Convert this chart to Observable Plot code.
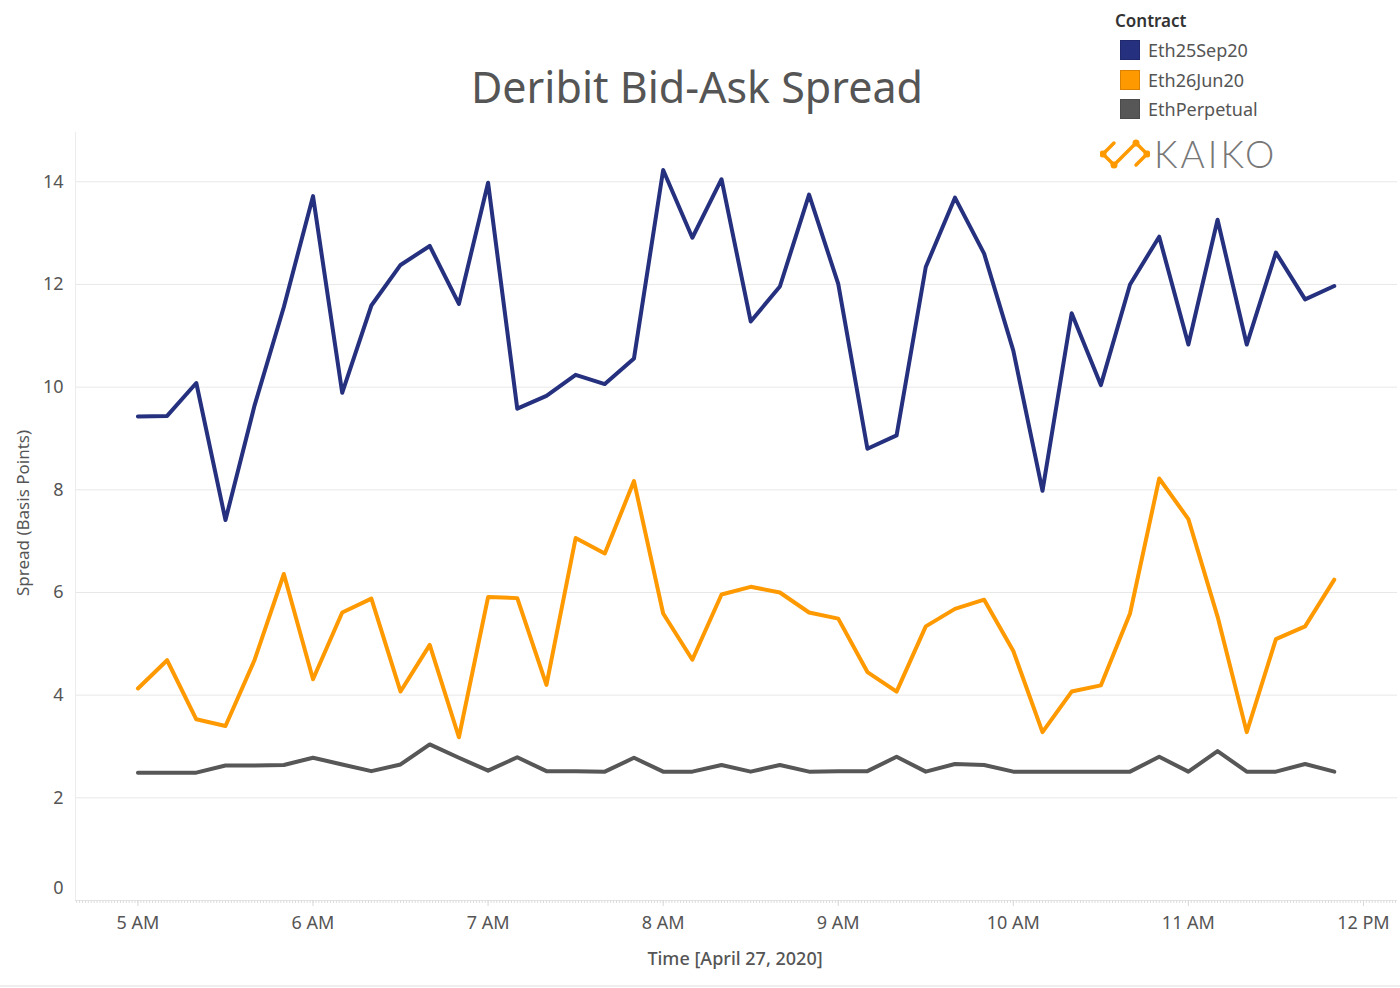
<!DOCTYPE html>
<html>
<head>
<meta charset="utf-8">
<script src="https://cdn.jsdelivr.net/npm/d3@7"></script>
<script src="https://cdn.jsdelivr.net/npm/@observablehq/plot@0.6"></script>
<style>
  body { margin: 0; background: #fff; font-family: "Noto Sans", sans-serif; }
  #wrap { position: relative; width: 1400px; height: 988px; overflow: hidden; }
  #chart { position: absolute; left: 0; top: 0; }
  .title { position: absolute; left: 0; width: 1394px; top: 57px; text-align: center; font-size: 43px; color: #555; letter-spacing: 0px; }
  .ylab { position: absolute; left: 22px; top: 513px; transform: translate(-50%, -50%) rotate(-90deg); white-space: nowrap; font-size: 17px; color: #555; }
  .xlab { position: absolute; left: 735px; top: 958px; transform: translate(-50%, -50%); white-space: nowrap; font-size: 18px; color: #555; font-weight: 500; }
  .legend-title { position: absolute; left: 1115px; top: 9px; font-size: 17px; font-weight: 600; color: #333; }
  .legend-item { position: absolute; left: 1120px; height: 20px; display: flex; align-items: center; font-size: 18px; color: #555; white-space: nowrap; }
  .legend-item span.sw { width: 20px; height: 20px; box-sizing: border-box; border: 1px solid rgba(0,0,0,0.15); margin-right: 8px; }
  .logo { position: absolute; left: 1100px; top: 131px; display: flex; align-items: center; }
  .logo span { font-family: Lato, sans-serif; font-weight: 300; font-size: 37px; letter-spacing: 3px; color: #777; margin-left: 4px; }
  .bottom-line { position: absolute; left: 0; top: 985px; width: 1400px; height: 2px; background: #eee; }
</style>
</head>
<body>
<div id="wrap">
  <div id="chart"></div>
  <div class="title">Deribit Bid-Ask Spread</div>
  <div class="ylab">Spread (Basis Points)</div>
  <div class="xlab">Time [April 27, 2020]</div>
  <div class="legend-title">Contract</div>
  <div id="legend"></div>
  <div class="logo">
    <svg width="50" height="30" viewBox="0 0 50 30">
      <g fill="none" stroke="#ff9900" stroke-width="3.5" stroke-linecap="round" stroke-linejoin="round">
        <path d="M14,4 L3,15 L14,26"/>
        <path d="M14,26 L25,15 L36,4"/>
        <path d="M36,4 L47,15 L36,26"/>
      </g>
      <g fill="#ff9900">
        <circle cx="3" cy="15" r="3.5"/>
        <circle cx="14" cy="26" r="3.5"/>
        <circle cx="36" cy="4" r="3.5"/>
        <circle cx="47" cy="15" r="3.5"/>
      </g>
    </svg>
    <span>KAIKO</span>
  </div>
  <div class="bottom-line"></div>
</div>
<script>
// horas de cada punto (27 abril 2020)
const times = [
  "05:00","05:10","05:20","05:30","05:40","05:50",
  "06:00","06:10","06:20","06:30","06:40","06:50",
  "07:00","07:10","07:20","07:30","07:40","07:50",
  "08:00","08:10","08:20","08:30","08:40","08:50",
  "09:00","09:10","09:20","09:30","09:40","09:50",
  "10:00","10:10","10:20","10:30","10:40","10:50",
  "11:00","11:10","11:20","11:30","11:40","11:50"
]
const eth25Sep20 = [9.43,9.44,10.08,7.41,9.65,11.56,13.72,9.89,11.59,12.38,12.75,11.62,13.98,9.58,9.83,10.24,10.06,10.56,14.23,12.91,14.05,11.28,11.96,13.75,12.01,8.80,9.06,12.34,13.69,12.60,10.71,7.98,11.44,10.04,12.00,12.93,10.83,13.26,10.83,12.62,11.71,11.97]
const eth26Jun20 = [4.13,4.68,3.53,3.40,4.69,6.36,4.31,5.61,5.88,4.07,4.98,3.18,5.91,5.89,4.20,7.06,6.76,8.17,5.59,4.69,5.96,6.11,6.00,5.61,5.49,4.45,4.07,5.34,5.68,5.86,4.86,3.28,4.07,4.19,5.59,8.22,7.43,5.53,3.28,5.09,5.34,6.25]
const ethPerpetual = [2.49,2.49,2.49,2.63,2.63,2.64,2.78,2.65,2.52,2.65,3.04,2.78,2.53,2.79,2.52,2.52,2.51,2.78,2.51,2.51,2.64,2.51,2.64,2.51,2.52,2.52,2.80,2.51,2.66,2.64,2.51,2.51,2.51,2.51,2.51,2.80,2.51,2.91,2.51,2.51,2.66,2.51]
const contracts = ["Eth25Sep20", "Eth26Jun20", "EthPerpetual"]
const colors = ["#25307f", "#ff9900", "#575757"]
const yTicks = [0, 2, 4, 6, 8, 10, 12, 14]

const parseTime = s => {
  const [h, m] = s.split(":").map(Number)
  return new Date(2020, 3, 27, h, m)
}

// tabla larga para Plot
const series = [eth25Sep20, eth26Jun20, ethPerpetual]
const data = []
contracts.forEach((c, k) => {
  times.forEach((t, i) => data.push({ contract: c, time: parseTime(t), value: series[k][i] }))
})

const xStart = new Date(2020, 3, 27, 4, 38, 36)
const xEnd = new Date(2020, 3, 27, 12, 11, 40)

let chart = Plot.plot({
  width: 1400,
  height: 988,
  marginTop: 132,
  marginBottom: 88,
  marginLeft: 75,
  marginRight: 3,
  style: { fontFamily: '"Noto Sans", sans-serif', fontSize: '17px', color: '#555', background: 'transparent' },
  x: { type: 'time', domain: [xStart, xEnd] },
  y: { domain: [0, 14.96] },
  color: { domain: contracts, range: colors },
  marks: [
    Plot.gridY(yTicks.slice(1), { stroke: '#e8e8e8', strokeOpacity: 1 }),
    Plot.ruleX([xStart], { stroke: '#ececec' }),
    Plot.ruleY([0], { stroke: '#e4e4e4' }),
    // marcas menores (cada minuto)
    Plot.axisX({ ticks: d3.timeMinute.every(1), tickSize: 3, text: null, stroke: '#dcdcdc', strokeOpacity: 1 }),
    Plot.axisX({ ticks: d3.timeHour.every(1), tickSize: 6, text: null, stroke: '#d8d8d8', strokeOpacity: 1 }),
    Plot.axisX({ ticks: d3.timeHour.every(1), tickSize: 0, tickPadding: 16, tickFormat: d3.timeFormat('%-I %p'), label: null, fill: '#555', fontSize: 18 }),
    Plot.axisY({ ticks: yTicks.slice(1), tickSize: 0, tickPadding: 12, label: null, fill: '#555', fontSize: 18 }),
    Plot.text([0], { y: d => d, text: d => String(d), frameAnchor: 'left', textAnchor: 'end', dx: -12, dy: -12, fill: '#555', fontSize: 18 }),
    Plot.line(data, { x: 'time', y: 'value', z: 'contract', stroke: 'contract', strokeWidth: 4 })
  ]
})

d3.select('#chart').append(() => chart)

// leyenda
const legend = d3.select('#legend')
contracts.forEach((c, i) => {
  const item = legend.append('div').attr('class', 'legend-item').style('top', (40 + i * 29.5) + 'px')
  item.append('span').attr('class', 'sw').style('background', colors[i])
  item.append('span').text(c)
})
</script>
</body>
</html>
